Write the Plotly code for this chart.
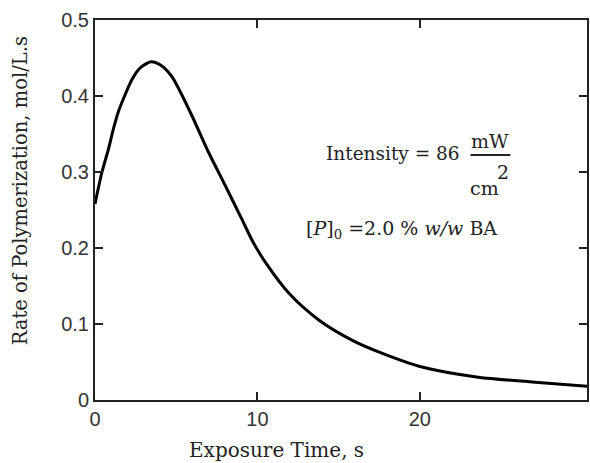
import plotly.graph_objects as go

# Data
time_s = [0.0, 0.43, 0.84, 1.15, 1.45, 1.86, 2.27, 2.78, 3.46, 4.01, 4.72, 5.24,
          5.95, 6.97, 8.0, 9.02, 9.73, 10.53, 11.96, 13.8, 15.85, 17.5, 20.2, 23.6,
          27.1, 30.3]
rate = [0.258, 0.300, 0.331, 0.358, 0.380, 0.402, 0.4215, 0.437, 0.445, 0.441,
        0.426, 0.406, 0.375, 0.327, 0.283, 0.239, 0.208, 0.180, 0.140, 0.105, 0.0785,
        0.063, 0.043, 0.030, 0.0235, 0.018]

x_ticks = [0, 10, 20]
x_tick_labels = ["0", "10", "20"]
y_ticks = [0, 0.1, 0.2, 0.3, 0.4, 0.5]
y_tick_labels = ["0", "0.1", "0.2", "0.3", "0.4", "0.5"]

SERIF = "DejaVu Serif"
SANS = "Liberation Sans"

W, H = 590, 463
L, R, T, B = 95, 1, 20, 63
PW, PH = W - L - R, H - T - B

fig = go.Figure()
fig.add_trace(go.Scatter(x=time_s, y=rate, mode="lines",
                         line=dict(color="black", width=3, shape="spline", smoothing=0.8),
                         showlegend=False, hoverinfo="skip"))

axis_common = dict(showgrid=False, zeroline=False, showline=True, linecolor="#222",
                   linewidth=2, mirror="ticks", ticks="inside", ticklen=8, tickwidth=2,
                   tickcolor="#222", tickfont=dict(family=SANS, size=20, color="#333"))

fig.update_xaxes(range=[0, 30.3], tickvals=x_ticks, ticktext=x_tick_labels, **axis_common)
fig.update_yaxes(range=[0, 0.5], tickvals=y_ticks, ticktext=y_tick_labels,
                 ticklabelstandoff=0, **axis_common)


def px(x, y):
    return (x - L) / PW, (H - B - y) / PH


annotations = [
    dict(text="Exposure Time, s", x=277, y=450, size=20),
    dict(text="Rate of Polymerization, mol/L.s", x=21, y=191, textangle=-90, size=19.5),
    dict(text="Intensity = 86", x=463, y=153, xanchor="right", size=18.5),
    dict(text="mW", x=492, y=141, size=19),
    dict(text="cm", x=486, y=188, size=19),
    dict(text="2", x=505, y=172, size=19),
    dict(text="[<i>P</i>]<sub>0</sub> =2.0 % <i>w/w</i> BA", x=305, y=230, xanchor="left",
         size=19),
]
ann = []
for a in annotations:
    xp, yp = px(a["x"], a["y"])
    ann.append(dict(xref="paper", yref="paper", showarrow=False,
                    xanchor=a.get("xanchor", "center"), yanchor="middle",
                    x=xp, y=yp, text=a["text"], textangle=a.get("textangle", 0),
                    font=dict(family=SERIF, color="#222", size=a["size"])))

# fraction bar
bx0, by = px(472, 155)
bx1, _ = px(512, 155)
fig.add_shape(type="line", xref="paper", yref="paper", x0=bx0, x1=bx1, y0=by, y1=by,
              line=dict(color="#222", width=2))

fig.update_layout(width=W, height=H, margin=dict(l=L, r=R, t=T, b=B),
                  plot_bgcolor="white", paper_bgcolor="white", annotations=ann)

fig.write_html("out.html", config={"displayModeBar": False},
               post_script="document.body.style.margin='0px';document.body.style.overflow='hidden';")
